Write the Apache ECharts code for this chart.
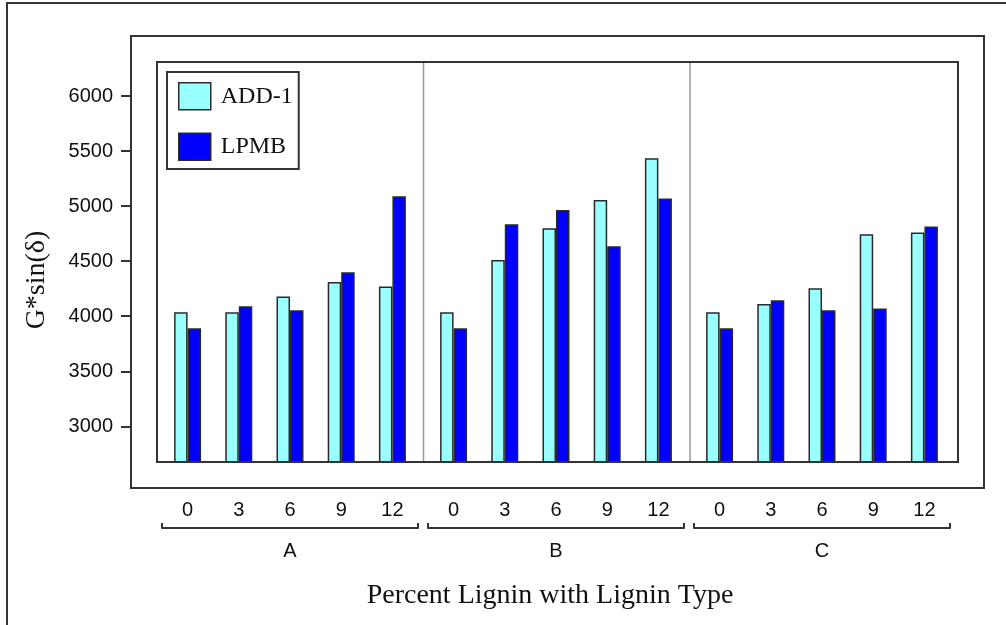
<!DOCTYPE html>
<html><head><meta charset="utf-8">
<script src="https://cdn.jsdelivr.net/npm/echarts@6/dist/echarts.min.js"></script>
<style>html,body{margin:0;padding:0;background:#fff}#c{width:1006px;height:625px}</style>
</head><body><div id="c"></div>
<script>
// ---- data ----
const percentLabels = ['0', '3', '6', '9', '12'];
const ligninTypes = ['A', 'B', 'C'];
const seriesNames = ['ADD-1', 'LPMB'];
const add1A = [4035, 4035, 4180, 4310, 4270];
const add1B = [4035, 4510, 4800, 5055, 5435];
const add1C = [4035, 4110, 4255, 4745, 4760];
const lpmbA = [3890, 4090, 4055, 4400, 5090];
const lpmbB = [3890, 4835, 4965, 4635, 5070];
const lpmbC = [3890, 4145, 4055, 4070, 4815];
const yTicks = [3000, 3500, 4000, 4500, 5000, 5500, 6000];
const yMin = 2676, yMax = 6309;
const xTitle = 'Percent Lignin with Lignin Type';
const yTitle = 'G*sin(δ)';

const add1 = [add1A, add1B, add1C];
const lpmb = [lpmbA, lpmbB, lpmbC];

// ---- layout / style ----
const gridLefts = [162, 428, 694];
const gridWidth = 256;
const cyan = '#99FFFF', blue = '#0000FF', edge = '#2a2a2a';
const sans = 'Liberation Sans', serif = 'Liberation Serif';

const grids = gridLefts.map(l => ({left: l, width: gridWidth, top: 62, height: 400}));
grids.push({left: 131, width: 827, top: 62, height: 400}); // grid for the shared y axis

const catAxes = ligninTypes.map((t, i) => ({
  type: 'category', gridIndex: i, data: percentLabels, position: 'bottom',
  axisLine: {show: false}, axisTick: {show: false},
  axisLabel: {margin: 38, fontFamily: sans, fontSize: 20, color: '#111'}
}));
const bracketAxes = ligninTypes.map((t, i) => ({
  type: 'value', gridIndex: i, position: 'bottom', offset: 66,
  min: 0, max: 1, interval: 1,
  axisLine: {show: true, lineStyle: {color: '#333', width: 2}},
  axisTick: {show: true, inside: true, length: 5, lineStyle: {color: '#333', width: 2}},
  axisLabel: {show: false}, splitLine: {show: false},
  name: t, nameLocation: 'middle', nameGap: 13,
  nameTextStyle: {fontFamily: sans, fontSize: 20, color: '#111'}
}));
const hiddenX = {type: 'value', gridIndex: 3, show: false, min: 0, max: 1};

const yAxes = ligninTypes.map((t, i) => ({
  type: 'value', gridIndex: i, min: yMin, max: yMax, show: false
}));
yAxes.push({
  type: 'value', gridIndex: 3, min: yMin, max: yMax, splitLine: {show: false},
  axisLine: {show: false},
  axisTick: {show: true, length: 10, customValues: yTicks, lineStyle: {color: '#333', width: 2}},
  axisLabel: {show: true, margin: 18, customValues: yTicks, formatter: v => String(v),
    fontFamily: sans, fontSize: 20, color: '#111'},
  name: yTitle, nameLocation: 'middle', nameGap: 80, nameRotate: 90,
  nameTextStyle: {fontFamily: serif, fontSize: 28, color: '#111', padding: [0, 36, 0, 0]}
});

const series = [];
ligninTypes.forEach((t, i) => {
  series.push({
    name: seriesNames[0], type: 'bar', xAxisIndex: i, yAxisIndex: i, data: add1[i],
    barWidth: 13.5, barGap: '0%',
    itemStyle: {color: cyan, borderColor: edge, borderWidth: 1.5}
  });
  series.push({
    name: seriesNames[1], type: 'bar', xAxisIndex: i, yAxisIndex: i, data: lpmb[i],
    barWidth: 13.5, barGap: '0%',
    itemStyle: {color: blue, borderColor: edge, borderWidth: 1.5}
  });
});

const option = {
  animation: false,
  backgroundColor: '#fff',
  title: {
    text: xTitle, left: 545, top: 577, textAlign: 'center',
    textStyle: {fontFamily: serif, fontSize: 28, fontWeight: 'normal', color: '#111'}
  },
  legend: {
    data: seriesNames, orient: 'vertical', left: 167, top: 72,
    padding: [10, 6, 8, 11], itemWidth: 32, itemHeight: 27, itemGap: 22,
    icon: 'rect', borderColor: '#333', borderWidth: 2, backgroundColor: '#fff',
    itemStyle: {borderColor: edge, borderWidth: 1.5},
    textStyle: {fontFamily: serif, fontSize: 24, color: '#111', padding: [0, 0, 0, 5]},
    selectedMode: false
  },
  grid: grids,
  xAxis: catAxes.concat(bracketAxes, [hiddenX]),
  yAxis: yAxes,
  series: series,
  graphic: [
    {type: 'rect', z: 1, shape: {x: 7, y: 3, width: 1020, height: 650}, style: {fill: 'none', stroke: '#333', lineWidth: 2}},
    {type: 'rect', z: 1, shape: {x: 131, y: 36, width: 853, height: 452}, style: {fill: 'none', stroke: '#333', lineWidth: 2}},
    {type: 'line', z: 1, shape: {x1: 423.5, y1: 62, x2: 423.5, y2: 462}, style: {stroke: '#999', lineWidth: 1.5}},
    {type: 'line', z: 1, shape: {x1: 690, y1: 62, x2: 690, y2: 462}, style: {stroke: '#999', lineWidth: 1.5}},
    {type: 'rect', z: 10, shape: {x: 157, y: 62, width: 801, height: 400}, style: {fill: 'none', stroke: '#333', lineWidth: 2}}
  ]
};

const chart = echarts.init(document.getElementById('c'));
chart.setOption(option);
</script>
</body></html>
